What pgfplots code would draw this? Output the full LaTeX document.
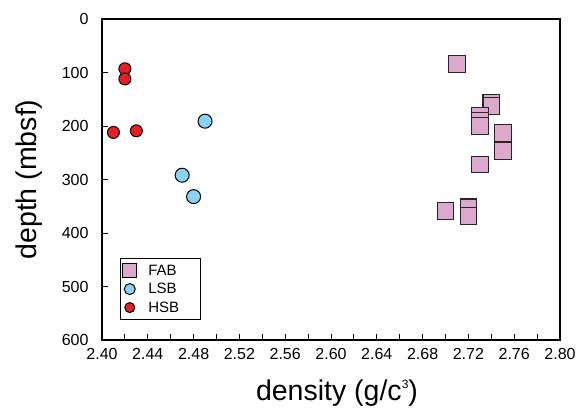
\documentclass[border=0pt]{standalone}
\usepackage{pgfplots}
\pgfplotsset{compat=1.18}
\usepackage{fontspec}
\setmainfont{Liberation Sans}
\definecolor{fabc}{RGB}{221,168,206}
\definecolor{lsbc}{RGB}{138,210,240}
\definecolor{hsbc}{RGB}{230,30,40}
\begin{document}
\begin{tikzpicture}
\begin{axis}[
  scale only axis,
  width=458pt, height=321pt,
  xmin=2.40, xmax=2.80, ymin=0, ymax=600,
  y dir=reverse,
  xtick={2.40,2.44,...,2.801},
  minor xtick={2.42,2.46,...,2.79},
  ytick={0,100,...,600},
  x tick label style={yshift=-5pt},
  xticklabel={\pgfmathprintnumber[fixed,fixed zerofill,precision=2]{\tick}},
  /pgf/number format/assume math mode=true,
  tick label style={font=\fontsize{16}{18}\selectfont},
  y tick label style={xshift=-10pt},
  tick align=inside,
  major tick length=6pt, minor tick length=6pt,
  xtick pos=bottom, ytick pos=left,
  axis line style={line width=1.1pt},
  tick style={line width=1pt, black},
  xlabel={density (g/c\raisebox{12pt}{\fontsize{12}{12}\selectfont 3})},
  ylabel={depth (mbsf)},
  label style={font=\fontsize{28.5}{32}\selectfont},
  xlabel style={yshift=-13pt, xshift=6pt},
  ylabel style={yshift=12pt},
  legend style={at={(0.039,0.0625)}, anchor=south west, draw=black, line width=0.8pt,
    font=\fontsize{15}{17}\selectfont, row sep=2.5pt, inner xsep=2pt, inner ysep=4pt},
  legend cell align=left,
]
\addplot[only marks, mark=square*, mark size=8.3pt, mark options={fill=fabc, draw=black!85, line width=1.1pt},
  legend image code/.code={\draw[fill=fabc, draw=black, line width=1pt] (0.12cm+6pt,-7pt) rectangle ++(14pt,14pt);}]
coordinates {
(2.71,84) (2.74,156) (2.74,163) (2.73,181) (2.73,190) (2.73,200)
(2.75,213) (2.75,247) (2.73,272) (2.70,359) (2.72,352) (2.72,368)
};
\addlegendentry{\hspace*{9pt}FAB\rule{20pt}{0pt}}
\addplot[only marks, mark=*, mark size=7pt, mark options={fill=lsbc, draw=black, line width=1pt},
  legend image code/.code={\draw[fill=lsbc, draw=black, line width=1pt] (0.12cm+13pt,0pt) circle (5.5pt);}]
coordinates {
(2.49,191) (2.47,292) (2.48,332)
};
\addlegendentry{\hspace*{9pt}LSB}
\addplot[only marks, mark=*, mark size=6pt, mark options={fill=hsbc, draw=black, line width=1pt},
  legend image code/.code={\draw[fill=hsbc, draw=black, line width=1pt] (0.12cm+13pt,0pt) circle (5pt);}]
coordinates {
(2.42,93) (2.42,112) (2.41,212) (2.43,209)
};
\addlegendentry{\hspace*{9pt}HSB}
\end{axis}
\pgfresetboundingbox
\path ([shift={(-102pt,-71pt)}]current axis.south west) rectangle ([shift={(19pt,19pt)}]current axis.north east);
\end{tikzpicture}
\end{document}
